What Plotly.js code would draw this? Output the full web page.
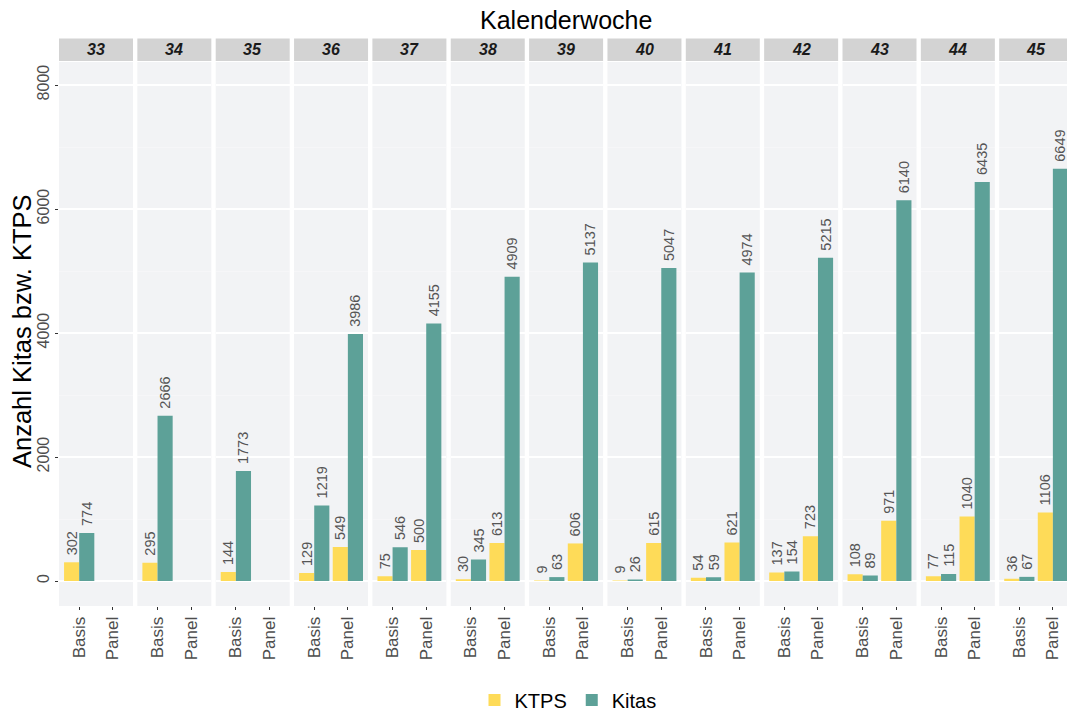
<!DOCTYPE html>
<html><head><meta charset="utf-8">
<script src="https://cdn.plot.ly/plotly-3.0.1.min.js"></script>
<style>html,body{margin:0;padding:0;overflow:hidden;background:#fff}</style>
</head><body>
<div id="chart" style="width:1073px;height:722px"></div>
<script>
const weeks = ["33","34","35","36","37","38","39","40","41","42","43","44","45"];
const categories = ["Basis","Panel"];
const ktpsBasis  = [302, 295, 144, 129, 75, 30, 9, 9, 54, 137, 108, 77, 36];
const kitasBasis = [774, 2666, 1773, 1219, 546, 345, 63, 26, 59, 154, 89, 115, 67];
const ktpsPanel  = [null, null, null, 549, 500, 613, 606, 615, 621, 723, 971, 1040, 1106];
const kitasPanel = [null, null, null, 3986, 4155, 4909, 5137, 5047, 4974, 5215, 6140, 6435, 6649];
const seriesNames = ["KTPS","Kitas"];
const colors = ["#FEDB58","#5DA198"];

const W = 1073, H = 722, ml = 59, mr = 0, mt = 62, mb = 116;
const plotW = W - ml - mr;
const plotH = H - mt - mb;
const n = weeks.length;
const pitch = 78.35, panelPx = 74;

const traces = [];
const layout = {
  width: W, height: H,
  margin: {l: ml, r: mr, t: mt, b: mb},
  paper_bgcolor: "#ffffff",
  plot_bgcolor: "#F2F3F5",
  font: {family: "Liberation Sans, Arial, sans-serif", color: "#4D4D4D"},
  barmode: "group", bargap: 0.1, bargroupgap: 0,
  showlegend: true,
  legend: {orientation: "h", x: (568-ml)/plotW, xanchor: "center", y: -(700-606)/plotH, yanchor: "middle",
           font: {size: 20, color: "#000"}, traceorder: "normal", itemwidth: 30, tracegroupgap: 0},
  yaxis: {
    range: [-403, 8371], tickvals: [0,2000,4000,6000,8000], ticktext: ["0","2000","4000","6000","8000"],
    tickangle: -90, tickfont: {size: 16, color: "#4D4D4D"},
    ticks: "outside", ticklen: 3, tickcolor: "#333", showgrid: true, gridcolor: "#FFFFFF", gridwidth: 1.2,
    minor: {tickvals: [1000,3000,5000,7000], showgrid: true, gridcolor: "#F8F9FA", gridwidth: 0.6, ticks: ""},
    zeroline: false, showline: false, anchor: "x"
  },
  shapes: [], annotations: []
};

for (let i = 0; i < n; i++) {
  const ax = i === 0 ? "x" : "x" + (i+1);
  const axKey = i === 0 ? "xaxis" : "xaxis" + (i+1);
  const x0 = (i*pitch)/plotW;
  const x1 = (i*pitch+panelPx)/plotW;
  layout[axKey] = {
    domain: [x0, Math.min(x1,1)], anchor: "y", type: "category",
    categoryorder: "array", categoryarray: categories,
    range: [-0.6, 1.6], tickangle: -90, tickfont: {size: 17, color: "#4D4D4D"},
    ticks: "outside", ticklen: 3, tickcolor: "#333", showgrid: false, zeroline: false, showline: false,
    fixedrange: true
  };
  const kt = [ktpsBasis[i], ktpsPanel[i]];
  const ki = [kitasBasis[i], kitasPanel[i]];
  [kt, ki].forEach((vals, s) => {
    traces.push({
      type: "bar", x: categories, y: vals, xaxis: ax, yaxis: "y",
      name: seriesNames[s], legendgroup: seriesNames[s], showlegend: i === 0,
      marker: {color: colors[s]},
      text: vals.map(v => v === null ? "" : "\u00a0" + String(v)),
      textposition: "outside", textangle: -90, cliponaxis: false, constraintext: "none",
      textfont: {size: 14.5, color: "#555555"},
      hoverinfo: "x+y+name"
    });
  });
  // strip
  layout.shapes.push({type: "rect", xref: ax + " domain", yref: "paper",
    x0: 0, x1: 1, y0: 1 + 1/plotH, y1: 1 + 23.5/plotH,
    fillcolor: "#D3D3D3", line: {width: 0}, layer: "below"});
  layout.annotations.push({xref: ax + " domain", yref: "paper", x: 0.5,
    y: 1 + 12.5/plotH, yanchor: "middle", xanchor: "center", showarrow: false,
    text: weeks[i], font: {size: 16, color: "#1A1A1A", weight: "bold", style: "italic"}});
}
layout.annotations.push({xref: "paper", yref: "paper", x: (566-ml)/plotW, xanchor: "center",
  y: 1 + (mt-20)/plotH, yanchor: "middle", showarrow: false,
  text: "Kalenderwoche", font: {size: 25, color: "#000"}});
layout.annotations.push({xref: "paper", yref: "paper", x: (22-ml)/plotW, xanchor: "center",
  y: (606-331)/plotH, yanchor: "middle", showarrow: false, textangle: -90,
  text: "Anzahl Kitas bzw. KTPS", font: {size: 25.5, color: "#000"}});

Plotly.newPlot("chart", traces, layout, {displayModeBar: false, staticPlot: true});
</script>
</body></html>
